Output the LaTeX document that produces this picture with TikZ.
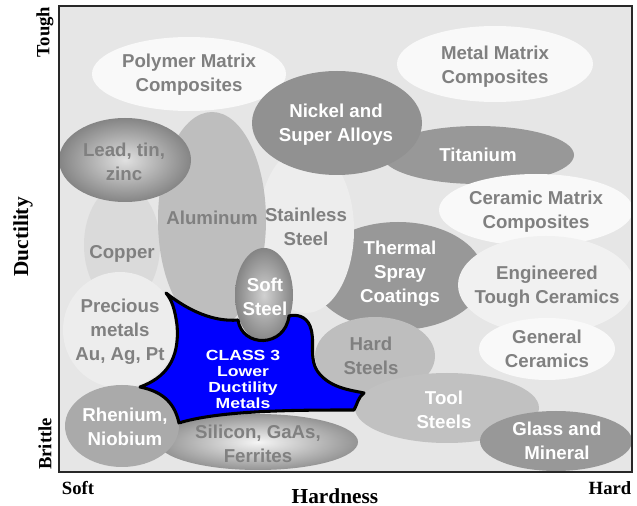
\documentclass[tikz,border=0pt]{standalone}
\usepackage{fontspec}
\setmainfont{Liberation Serif}
\newfontfamily\bubfont{Liberation Sans}
\newfontfamily\classfont[FakeStretch=1.2]{Liberation Sans}
\definecolor{panelgrey}{RGB}{230,230,230}
\definecolor{framegrey}{RGB}{40,40,40}
\definecolor{whitebub}{RGB}{249,249,249}
\definecolor{darkbub}{RGB}{152,152,152}
\definecolor{nickelbub}{RGB}{145,145,145}
\definecolor{midbub}{RGB}{190,190,190}
\definecolor{rheniumbub}{RGB}{170,170,170}
\definecolor{copperbub}{RGB}{218,218,218}
\definecolor{lightbub}{RGB}{237,237,237}
\definecolor{txtgrey}{RGB}{128,128,128}
\definecolor{classblue}{RGB}{0,0,255}
\tikzset{
  bubtext/.style={font=\bubfont\bfseries\fontsize{14}{18}\selectfont, align=center, inner sep=0pt},
  greytext/.style={bubtext, text=txtgrey},
  whitetext/.style={bubtext, text=white},
  axislabel/.style={font=\bfseries\fontsize{14}{16}\selectfont, inner sep=0pt},
  bigaxis/.style={font=\bfseries\fontsize{16}{18}\selectfont, inner sep=0pt},
  glowbub/.style 2 args={inner color=#1, outer color=#2}
}

\begin{document}
\begin{tikzpicture}[x=0.75pt, y=-0.75pt]
\useasboundingbox (0,0) rectangle (637,506);
\fill[panelgrey] (59,6) rectangle (632,472);
\begin{scope}
\clip (59,6) rectangle (632,472);
% top row
\fill[whitebub] (189,74) ellipse [x radius=97, y radius=37];
\fill[whitebub] (495,64) ellipse [x radius=98, y radius=38];
\fill[darkbub] (478,155) ellipse [x radius=96, y radius=29];
\fill[darkbub] (398,276) ellipse [x radius=86, y radius=54];
\fill[lightbub] (306,230) ellipse [x radius=48, y radius=83];
\fill[nickelbub] (337,123) ellipse [x radius=85, y radius=52];
% left column
\fill[copperbub] (122,245) ellipse [x radius=38, y radius=60];
\fill[midbub] (212,220) ellipse [x radius=54, y radius=108];
\shade[glowbub={black!12}{black!48}] (125,160) ellipse [x radius=66, y radius=42];
% ceramics
\fill[whitebub] (536,210) ellipse [x radius=97, y radius=36];
\fill[whitebub!97!black] (546,285) ellipse [x radius=88, y radius=49];
\fill[whitebub] (547,349) ellipse [x radius=68, y radius=31];
% lower part
\fill[lightbub] (120,330) ellipse [x radius=57, y radius=58];
\fill[midbub] (375,356) ellipse [x radius=60, y radius=39];
\fill[midbub!95!white] (447,408) ellipse [x radius=92, y radius=35];
\fill[darkbub] (556,441) ellipse [x radius=76, y radius=30];
\shade[glowbub={black!4}{black!42}] (258,442) ellipse [x radius=100, y radius=28];
\fill[rheniumbub] (122,426) ellipse [x radius=57, y radius=41];
\shade[glowbub={black!18}{black!48}] (264,295) ellipse [x radius=29, y radius=47];
\end{scope}
\draw[framegrey, line width=1.5pt] (59,6) rectangle (632,472);

% class 3 region
\draw[fill=classblue, line width=2.3pt, line join=round] (166,293)
  .. controls (190,312) and (215,322) .. (238,320)
  .. controls (242,348) and (285,348) .. (289,316)
  .. controls (296,314) and (306,316) .. (310,326)
  .. controls (316,340) and (308,358) .. (318,372)
  .. controls (330,388) and (350,390) .. (364,393)
  .. controls (358,397) and (357,405) .. (354,410)
  .. controls (300,410) and (220,410) .. (179,423)
  .. controls (175,405) and (165,392) .. (140,387)
  .. controls (165,378) and (180,360) .. (177,325)
  .. controls (175,310) and (172,300) .. (166,293) -- cycle;

% labels
\node[greytext] (polymer) at (189,75) {Polymer Matrix\\Composites};
\node[greytext] (metalmx) at (495,67) {Metal Matrix\\Composites};
\node[whitetext] (nickel) at (336,125) {Nickel and\\Super Alloys};
\node[whitetext] (titanium) at (478,155) {Titanium};
\node[greytext] (lead) at (124,162) {Lead, tin,\\zinc};
\node[greytext] (alu) at (212,218) {Aluminum};
\node[greytext] (stainless) at (306,227) {Stainless\\Steel};
\node[greytext] (copper) at (122,254) {Copper};
\node[greytext] (ceramicmx) at (536,212) {Ceramic Matrix\\Composites};
\node[whitetext] (thermal) at (400,274) {Thermal\\Spray\\Coatings};
\node[greytext] (engineered) at (547,287) {Engineered\\Tough Ceramics};
\node[whitetext] (softst) at (265,297) {Soft\\Steel};
\node[greytext] (precious) at (120,332) {Precious\\metals\\Au, Ag, Pt};
\node[greytext] (general) at (547,349) {General\\Ceramics};
\node[greytext] (hardst) at (371,356) {Hard\\Steels};
\node[whitetext] (toolst) at (444,410) {Tool\\Steels};
\node[whitetext] (rhenium) at (125,427) {Rhenium,\\Niobium};
\node[greytext] (silicon) at (258,444) {Silicon, GaAs,\\Ferrites};
\node[whitetext] (glass) at (557,441) {Glass and\\Mineral};
\node[text=white, align=center, inner sep=0pt, font=\classfont\bfseries\fontsize{11}{12}\selectfont] (class3) at (243,379) {CLASS 3\\Lower\\Ductility\\Metals};

% axes
\node[axislabel, rotate=90] (tough) at (45,32) {Tough};
\node[bigaxis, rotate=90] (ductility) at (23,237) {Ductility};
\node[axislabel, rotate=90] (brittle) at (45,444) {Brittle};
\node[axislabel] (soft) at (78,488) {Soft};
\node[axislabel] (hard) at (610,488) {Hard};
\node[bigaxis] (hardness) at (335,496) {Hardness};
\end{tikzpicture}
\end{document}
